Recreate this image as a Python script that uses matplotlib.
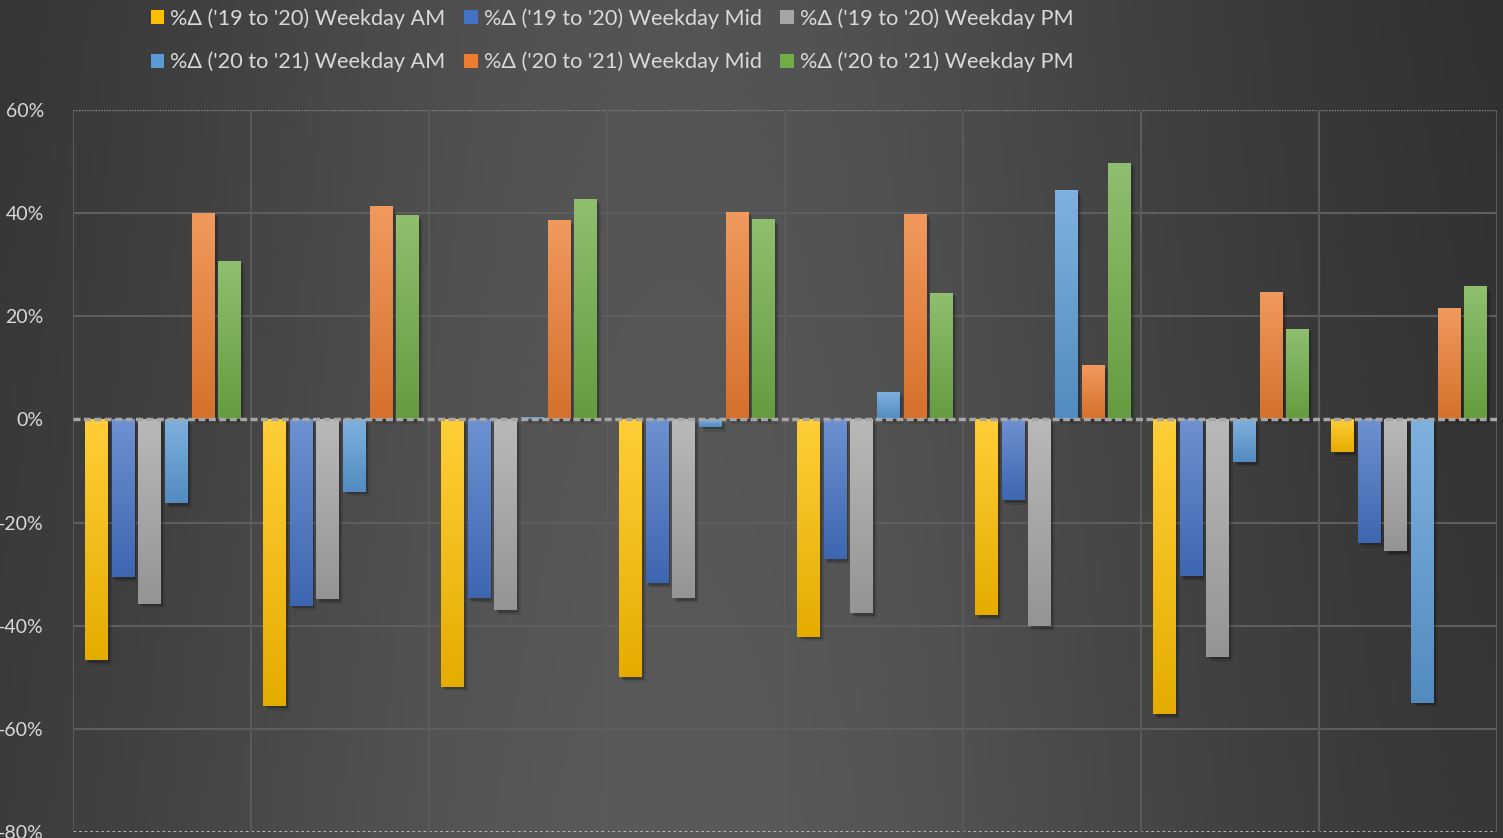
import numpy as np
import matplotlib
matplotlib.use("Agg")
import matplotlib.pyplot as plt
import matplotlib.patheffects as pe
from matplotlib.patches import Patch
from matplotlib.colors import to_rgb

plt.rcParams['font.family'] = ['Lato', 'DejaVu Sans']

# data (percent), 8 groups
labels = ["%Δ ('19 to '20) Weekday AM", "%Δ ('19 to '20) Weekday Mid", "%Δ ('19 to '20) Weekday PM",
          "%Δ ('20 to '21) Weekday AM", "%Δ ('20 to '21) Weekday Mid", "%Δ ('20 to '21) Weekday PM"]
am_19_20 = [-46.7, -55.5, -51.8, -50.0, -42.1, -38.0, -57.2, -6.4]
mid_19_20 = [-30.6, -36.1, -34.7, -31.8, -27.1, -15.7, -30.4, -23.9]
pm_19_20 = [-35.7, -34.9, -37.0, -34.7, -37.6, -40.1, -46.0, -25.6]
am_20_21 = [-16.3, -14.0, 0.4, -1.4, 5.4, 44.4, -8.3, -54.9]
mid_20_21 = [40.1, 41.3, 38.6, 40.3, 39.9, 10.5, 24.8, 21.7]
pm_20_21 = [30.8, 39.6, 42.7, 38.8, 24.6, 49.8, 17.6, 25.8]
series = [am_19_20, mid_19_20, pm_19_20, am_20_21, mid_20_21, pm_20_21]
colors = ['#FFC000', '#4472C4', '#A5A5A5', '#5B9BD5', '#ED7D31', '#70AD47']

fig = plt.figure(figsize=(15.03, 8.38), dpi=100)

# background gradient
bg = fig.add_axes([0, 0, 1, 1], zorder=-10)
xx, yy = np.meshgrid(np.linspace(0, 1, 300), np.linspace(0, 1, 200))
lum = 0x2c + 0x28 * np.exp(-((xx - 0.45) / 0.38) ** 2) + 0x06 * yy
lum = lum / 255.0
bg.imshow(np.dstack([lum, lum, lum]), aspect='auto', extent=[0, 1, 0, 1], origin='upper')
bg.axis('off')

ax = fig.add_axes([73 / 1503, 6 / 838, 1424 / 1503, 722 / 838])
ax.patch.set_alpha(0)

n = len(am_19_20)
x = np.arange(n)
pitch = 0.15
width = 0.124
handles = []
for i, (vals, c) in enumerate(zip(series, colors)):
    xpos = x - 2.5 * pitch + i * pitch + 0.004
    bars = ax.bar(xpos, np.array(vals) / 100, width=width, color=c, zorder=3,
                  path_effects=[pe.SimplePatchShadow(offset=(2, -2), shadow_rgbFace='black', alpha=0.22),
                                pe.SimplePatchShadow(offset=(3.5, -3.5), shadow_rgbFace='black', alpha=0.1),
                                pe.Normal()])
    base = np.array(to_rgb(c))
    light = base + (1 - base) * 0.22
    dark = base * 0.9
    grad = np.linspace(0, 1, 100)[:, None]
    img = light[None, None, :] * (1 - grad[:, :, None]) + dark[None, None, :] * grad[:, :, None]
    for b in bars:
        x0, y0 = b.get_x(), b.get_y()
        h = b.get_height()
        top = max(y0, y0 + h)
        bot = min(y0, y0 + h)
        im = ax.imshow(img, extent=[x0, x0 + b.get_width(), bot, top], origin='upper',
                       aspect='auto', zorder=4)
        im.set_clip_path(b)
    handles.append(Patch(facecolor=c, edgecolor='none'))

ax.set_xlim(-0.5, n - 0.5)
ax.set_ylim(-0.8, 0.6)
ticks = np.arange(-0.8, 0.61, 0.2)
ax.set_yticks(ticks)
ax.set_yticklabels([f"{int(round(v * 100))}%" for v in ticks])
ax.tick_params(axis='y', length=0, colors='#d9d9d9', labelsize=14, pad=21)
ax.tick_params(axis='x', length=0, labelbottom=False)
for s in ax.spines.values():
    s.set_visible(False)

# grid
for v in np.arange(-0.6, 0.41, 0.2):
    if abs(v) > 1e-9:
        ax.axhline(v, color='#5e5e5e', lw=1.5, zorder=1)
ax.axhline(0.6, color='#8a8a8a', lw=1, ls=(0, (1, 1)), zorder=1)
ax.axhline(-0.8, color='#bfbfbf', lw=2, ls=(0, (1, 1)), zorder=1)
for gx in np.arange(-0.5, n - 0.4, 1):
    ax.axvline(gx, color='#5a5a5a', lw=1.5, zorder=1)
ax.axhline(0, color='#a6a6a6', lw=2.5, ls=(0, (2, 1)), zorder=5)

fig.legend([handles[0], handles[3], handles[1], handles[4], handles[2], handles[5]],
           [labels[0], labels[3], labels[1], labels[4], labels[2], labels[5]],
           ncol=3, loc='upper left', bbox_to_anchor=(131 / 1503, 1 + 11 / 838), frameon=False,
           fontsize=15.6, labelcolor='#d9d9d9', handlelength=0.62, handleheight=0.62,
           handletextpad=0.3, columnspacing=0.85, labelspacing=1.05)

fig.savefig('out.png', dpi=100)
